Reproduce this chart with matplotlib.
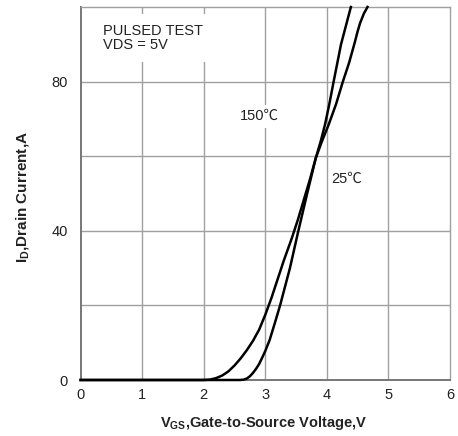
import matplotlib
matplotlib.use("Agg")
import matplotlib.pyplot as plt

plt.rcParams['font.family'] = ['Liberation Sans', 'Noto Sans CJK SC', 'DejaVu Sans']
plt.rcParams['mathtext.fontset'] = 'custom'
plt.rcParams['mathtext.rm'] = 'Liberation Sans'
plt.rcParams['mathtext.bf'] = 'Liberation Sans:bold'
plt.rcParams['mathtext.it'] = 'Liberation Sans:italic'

# 150 C curve
vgs_150 = [0, 2.0, 2.1, 2.2, 2.3, 2.4, 2.5, 2.6, 2.7, 2.8, 2.9, 3.0, 3.1, 3.2, 3.3,
           3.43, 3.53, 3.62, 3.72, 3.82, 3.9, 3.97, 4.04, 4.11, 4.17, 4.23, 4.31, 4.39]
id_150 = [0, 0, 0.1, 0.5, 1.2, 2.3, 3.9, 5.8, 8.0, 10.5, 13.5, 17.5, 22, 27, 32,
          38, 43, 48, 53.5, 59.5, 64, 68.5, 74, 80, 85, 90, 95, 100]
# 25 C curve
vgs_25 = [0, 2.59, 2.65, 2.7, 2.75, 2.8, 2.85, 2.9, 2.95, 3.0, 3.07, 3.15, 3.24, 3.32,
          3.4, 3.53, 3.68, 3.82, 3.92, 4.03, 4.15, 4.26, 4.36, 4.45, 4.5, 4.54, 4.6, 4.66]
id_25 = [0, 0, 0.1, 0.4, 1.0, 1.9, 3.0, 4.3, 6.0, 7.8, 10.7, 15, 20, 25,
         30, 39.5, 50, 59.5, 64, 68.5, 74, 80, 85, 90.3, 93.5, 95.7, 98.2, 100]

xticks = [0, 1, 2, 3, 4, 5, 6]
yticks = [0, 40, 80]
ygrid = [20, 40, 60, 80]

fig = plt.figure(figsize=(4.58, 4.36), dpi=100)
ax = fig.add_axes([80.6 / 458, 1 - 380 / 436, (450 - 80.6) / 458, (380 - 7) / 436])

ax.set_xlim(0, 6)
ax.set_ylim(0, 100)
ax.set_xticks(xticks)
ax.set_yticks(yticks)
ax.tick_params(axis='both', length=0, labelsize=10.5, colors='#222222')
ax.tick_params(axis='x', pad=6)
ax.tick_params(axis='y', pad=9)

for gx in xticks[1:-1]:
    ax.axvline(gx, color='#a0a0a0', lw=1.0, zorder=1)
for gy in ygrid:
    ax.axhline(gy, color='#a0a0a0', lw=1.0, zorder=1)

for s in ['top', 'right']:
    ax.spines[s].set_color('#a0a0a0')
    ax.spines[s].set_linewidth(1.0)
for s in ['left', 'bottom']:
    ax.spines[s].set_color('#777777')
    ax.spines[s].set_linewidth(1.4)

ax.plot(vgs_150, id_150, color='black', lw=1.8, zorder=4, clip_on=False,
        solid_joinstyle='round')
ax.plot(vgs_25, id_25, color='black', lw=1.8, zorder=4, clip_on=False,
        solid_joinstyle='round')

ax.text(0.37, 95.5, 'PULSED TEST\nVDS = 5V', fontsize=10.5, color='#222222',
        ha='left', va='top', linespacing=1.0, zorder=3,
        bbox=dict(facecolor='white', edgecolor='none', pad=7))
ax.text(2.58, 70.7, '150℃', fontsize=10.5, color='#222222', ha='left', va='center', zorder=3,
        bbox=dict(facecolor='white', edgecolor='none', pad=3))
ax.text(4.07, 53.8, '25℃', fontsize=10.5, color='#222222', ha='left', va='center', zorder=3)

fig.text(23 / 458, 1 - 197 / 436, r'$\mathbf{I_D}$,Drain Current,A', rotation=90,
         fontsize=11, fontweight='bold', ha='center', va='center', color='#222222')
fig.text(264 / 458, 1 - 423 / 436, r'$\mathbf{V_{GS}}$,Gate-to-Source Voltage,V',
         fontsize=10.5, fontweight='bold', ha='center', va='center', color='#222222')

fig.savefig('out.png', dpi=100)
